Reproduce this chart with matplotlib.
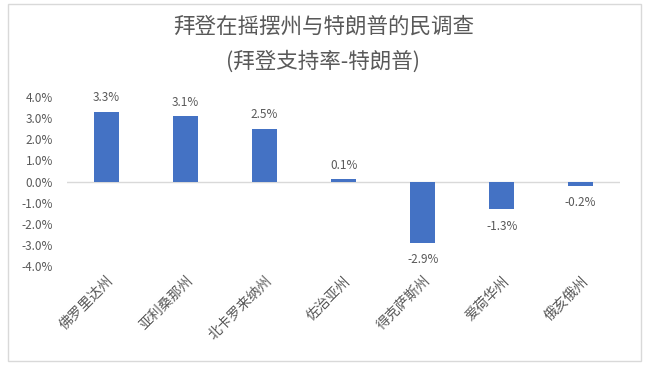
import numpy as np
import matplotlib.pyplot as plt
from matplotlib.patches import Rectangle
from matplotlib.ticker import FuncFormatter

plt.rcParams["font.family"] = ["Noto Sans CJK SC", "DejaVu Sans"]

# Poll data: Biden minus Trump, percentage points
states = ["佛罗里达州", "亚利桑那州", "北卡罗来纳州", "佐治亚州", "得克萨斯州", "爱荷华州", "俄亥俄州"]
margins = [3.3, 3.1, 2.5, 0.1, -2.9, -1.3, -0.2]
y_ticks = [4.0, 3.0, 2.0, 1.0, 0.0, -1.0, -2.0, -3.0, -4.0]

bar_color = "#4472C4"
text_color = "#595959"

fig = plt.figure(figsize=(6.47, 3.65), dpi=100)
fig.patches.append(Rectangle((0.013, 0.012), 0.978, 0.978, transform=fig.transFigure,
                             fill=False, edgecolor="#d9d9d9", linewidth=1))

ax = fig.add_axes([0.1036, 0.271, 0.855, 0.463])
x = np.arange(len(states))
ax.bar(x, margins, width=0.31, color=bar_color)
ax.axhline(0, color="#d9d9d9", linewidth=1, zorder=0)

for xi, v in zip(x, margins):
    if v >= 0:
        ax.text(xi, v + 0.35, f"{v:.1f}%", ha="center", va="bottom", fontsize=8.5, color=text_color)
    else:
        ax.text(xi, v - 0.5, f"{v:.1f}%", ha="center", va="top", fontsize=8.5, color=text_color)

ax.set_xlim(-0.5, len(states) - 0.5)
ax.set_ylim(-4, 4)
ax.set_yticks(y_ticks)
ax.yaxis.set_major_formatter(FuncFormatter(lambda v, p: f"{v:.1f}%"))
ax.tick_params(axis="y", length=0, labelsize=8.5, labelcolor=text_color, pad=10)
ax.set_xticks(x)
ax.set_xticklabels(states, rotation=45, ha="right", rotation_mode="anchor",
                   fontsize=10, color=text_color)
ax.tick_params(axis="x", length=0, pad=0)
for lbl in ax.get_xticklabels():
    lbl.set_y(-0.045)
for s in ax.spines.values():
    s.set_visible(False)

fig.text(0.5, 0.926, "拜登在摇摆州与特朗普的民调查", ha="center", va="center",
         fontsize=15.5, color=text_color)
fig.text(0.5, 0.830, "(拜登支持率-特朗普)", ha="center", va="center",
         fontsize=15.5, color=text_color)

fig.savefig("out.png", dpi=100)
